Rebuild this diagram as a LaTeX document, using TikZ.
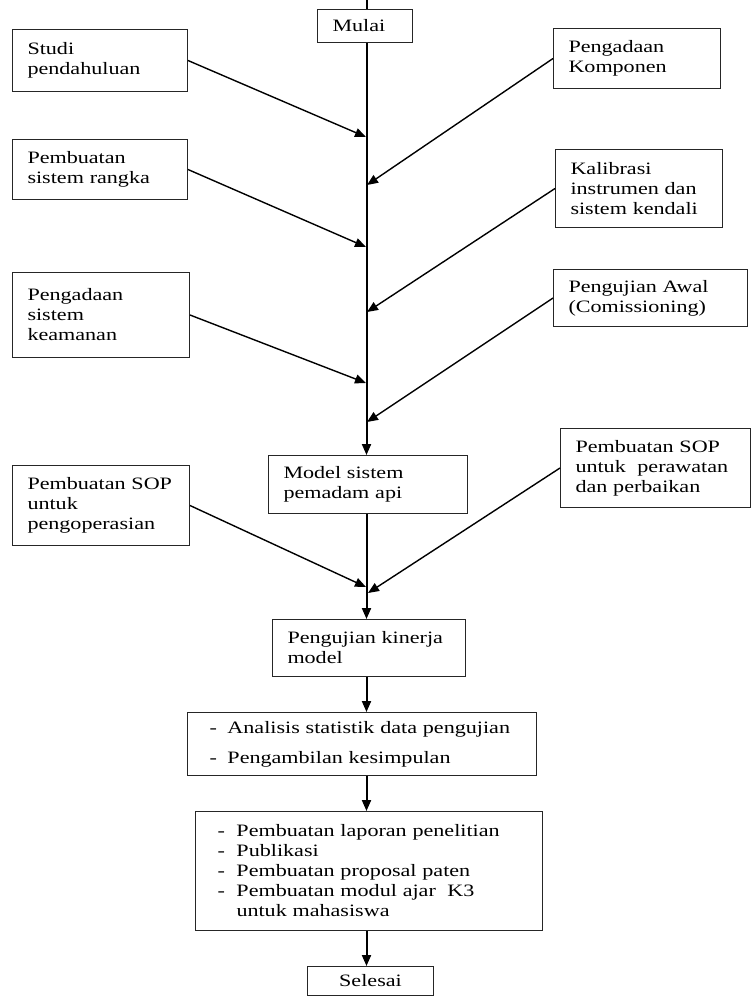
\documentclass[tikz,border=0pt]{standalone}
\usepackage{fontspec}
\setmainfont{Liberation Serif}[FakeStretch=1.27]
\usetikzlibrary{arrows.meta}
\begin{document}
\begin{tikzpicture}[x=1pt,y=-1pt]
\tikzstyle{kotak}=[draw=black!85,line width=1pt,anchor=north west,inner xsep=15pt,inner ysep=0pt,align=left,font=\fontsize{17.4}{20}\selectfont]
\tikzstyle{panah}=[line width=1.4pt,-{Triangle[length=11pt,width=9pt]}]
\tikzstyle{tulang}=[panah,line width=2pt]
\useasboundingbox (0,0) rectangle (752,997);
\coordinate (sumbu) at (366.5,0);

\path (317,9) node[kotak,text width=65pt,minimum height=33pt](mulai){Mulai};
\path (12,29) node[kotak,text width=145pt,minimum height=62pt](studi){Studi\\pendahuluan};
\path (12,139) node[kotak,text width=145pt,minimum height=60pt](rangka){Pembuatan\\sistem rangka};
\path (12,272) node[kotak,text width=147pt,minimum height=85pt](aman){Pengadaan\\sistem\\keamanan};
\path (12,465) node[kotak,text width=147pt,minimum height=80pt](sopop){Pembuatan SOP\\untuk\\pengoperasian};
\path (553,28) node[kotak,text width=137pt,minimum height=60pt](komponen){Pengadaan\\Komponen};
\path (555,149) node[kotak,text width=137pt,minimum height=78pt](kalibrasi){Kalibrasi\\instrumen dan\\sistem kendali};
\path (553,269) node[kotak,text width=164pt,minimum height=57pt](awal){Pengujian Awal\\(Comissioning)};
\path (560,428) node[kotak,text width=160pt,minimum height=79pt](soprw){Pembuatan SOP\\untuk~ perawatan\\dan perbaikan};
\path (268,455) node[kotak,text width=169pt,minimum height=58pt](model){Model sistem\\pemadam api};
\path (272,619) node[kotak,text width=163pt,minimum height=57pt](uji){Pengujian kinerja\\model};
\path (187,712) node[kotak,inner xsep=22pt,text width=305pt,minimum height=63pt](analisis){\makebox[18pt][l]{-}Analisis statistik data pengujian\\[10pt]\makebox[18pt][l]{-}Pengambilan kesimpulan};
\path (195,811) node[kotak,inner xsep=22pt,text width=303pt,minimum height=119pt](laporan){\makebox[19pt][l]{-}Pembuatan laporan penelitian\\\makebox[19pt][l]{-}Publikasi\\\makebox[19pt][l]{-}Pembuatan proposal paten\\\makebox[19pt][l]{-}Pembuatan modul ajar~ K3\\\hspace*{19pt}untuk mahasiswa};
\path (307,966) node[kotak,align=center,text width=96pt,minimum height=29pt](selesai){Selesai};

\path (366,137) coordinate(t1) (366,247) coordinate(t2) (366,383) coordinate(t3) (366,587) coordinate(t4);
\path (367,185) coordinate(k1) (367,312) coordinate(k2) (367,422) coordinate(k3) (368,593) coordinate(k4);

\draw[line width=2pt] (sumbu) -- (sumbu |- mulai.north);
\draw[tulang] (sumbu |- mulai.south) -- (sumbu |- model.north);
\draw[panah] (studi.east) -- (t1);
\draw[panah] (rangka.east) -- (t2);
\draw[panah] (aman.east) -- (t3);
\draw[panah] (komponen.west) -- (k1);
\draw[panah] (kalibrasi.west) -- (k2);
\draw[panah] (awal.west) -- (k3);

\draw[tulang] (sumbu |- model.south) -- (sumbu |- uji.north);
\draw[panah] (sopop.east) -- (t4);
\draw[panah] (soprw.west) -- (k4);
\draw[tulang] (sumbu |- uji.south) -- (sumbu |- analisis.north);
\draw[tulang] (sumbu |- analisis.south) -- (sumbu |- laporan.north);
\draw[tulang] (sumbu |- laporan.south) -- (sumbu |- selesai.north);
\end{tikzpicture}
\end{document}
